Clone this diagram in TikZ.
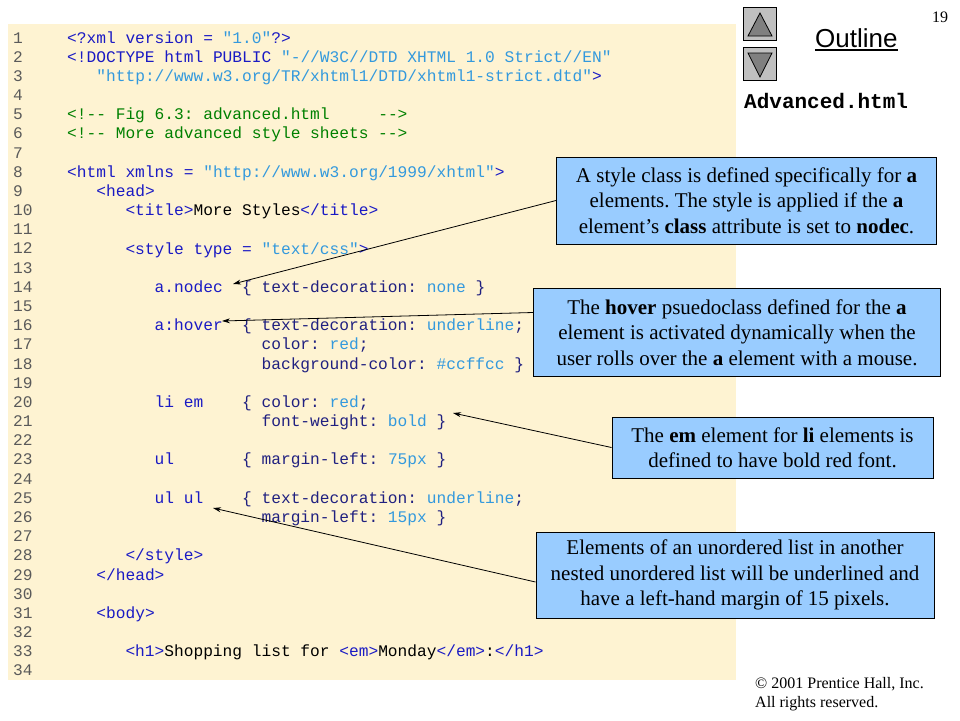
\documentclass[tikz,border=0pt]{standalone}
\usepackage{fontspec}
\setmainfont{Liberation Serif}
\setsansfont{Liberation Sans}
\setmonofont{Liberation Mono}
\usetikzlibrary{arrows.meta}

\definecolor{cream}{RGB}{254,243,210}
\definecolor{noteblue}{RGB}{153,204,255}
\definecolor{tagblue}{RGB}{26,26,196}
\definecolor{valblue}{RGB}{51,153,221}
\definecolor{propnavy}{RGB}{32,32,128}
\definecolor{comgreen}{RGB}{0,128,0}
\definecolor{numgray}{RGB}{90,90,90}
\definecolor{btngray}{RGB}{192,192,192}
\definecolor{arrgray}{RGB}{128,128,128}

\newcommand{\ctag}[1]{\textcolor{tagblue}{#1}}
\newcommand{\cval}[1]{\textcolor{valblue}{#1}}
\newcommand{\cprop}[1]{\textcolor{propnavy}{#1}}
\newcommand{\ccom}[1]{\textcolor{comgreen}{#1}}

\tikzset{
	codeline/.style = {anchor=base west, inner sep=0pt, font=\fontsize{16.2}{19}\ttfamily\frenchspacing},
	linenum/.style = {codeline, text=numgray},
	note/.style = {draw=black, line width=1pt, fill=noteblue, align=center, inner sep=0pt,
		font=\fontsize{21}{25.5}\selectfont\frenchspacing},
	pointer/.style = {line width=0.8pt, -{Stealth[length=8pt,width=5pt]}},
	button/.style = {draw=black, line width=1.2pt, fill=btngray, minimum size=33pt, inner sep=0pt}
}

\begin{document}
\begin{tikzpicture}[x=1pt,y=-1pt]
	\useasboundingbox (0,0) rectangle (960,720);
	\fill[white] (0,0) rectangle (960,720);
	\fill[cream] (8,24) rectangle (736,680);
	% line numbers
	\foreach \n in {1,...,34}
		\node[linenum] (n\n) at (13,{43+(\n-1)*19.18}) {\n};
	% code
	\node[codeline] (c1) at (67,43) {\ctag{<?xml version =} \cval{"1.0"}\ctag{?>}};
	\node[codeline] (c2) at (67,62.2) {\ctag{<!DOCTYPE html PUBLIC} \cval{"-//W3C//DTD XHTML 1.0 Strict//EN"}};
	\node[codeline] (c3) at (96.2,81.4) {\cval{"http://www.w3.org/TR/xhtml1/DTD/xhtml1-strict.dtd"}\ctag{>}};
	\node[codeline] (c5) at (67,119.7) {\ccom{<!-- Fig 6.3: advanced.html~~~~~-->}};
	\node[codeline] (c6) at (67,138.9) {\ccom{<!-- More advanced style sheets -->}};
	\node[codeline] (c8) at (67,177.3) {\ctag{<html xmlns =} \cval{"http://www.w3.org/1999/xhtml"}\ctag{>}};
	\node[codeline] (c9) at (96.2,196.4) {\ctag{<head>}};
	\node[codeline] (c10) at (125.3,215.6) {\ctag{<title>}More Styles\ctag{</title>}};
	\node[codeline] (c12) at (125.3,254) {\ctag{<style type =} \cval{"text/css"}\ctag{>}};
	\node[codeline] (c14) at (154.5,292.3) {\ctag{a.nodec}~~\cprop{\{ text-decoration:} \cval{none} \cprop{\}}};
	\node[codeline] (c16) at (154.5,330.7) {\ctag{a:hover}~~\cprop{\{ text-decoration:} \cval{underline}\cprop{;}};
	\node[codeline] (c17) at (261.4,349.9) {\cprop{color:} \cval{red}\cprop{;}};
	\node[codeline] (c18) at (261.4,369) {\cprop{background-color:} \cval{\#ccffcc} \cprop{\}}};
	\node[codeline] (c20) at (154.5,407.4) {\ctag{li em}~~~~\cprop{\{ color:} \cval{red}\cprop{;}};
	\node[codeline] (c21) at (261.4,426.6) {\cprop{font-weight:} \cval{bold} \cprop{\}}};
	\node[codeline] (c23) at (154.5,464.9) {\ctag{ul}~~~~~~~\cprop{\{ margin-left:} \cval{75px} \cprop{\}}};
	\node[codeline] (c25) at (154.5,503.3) {\ctag{ul ul}~~~~\cprop{\{ text-decoration:} \cval{underline}\cprop{;}};
	\node[codeline] (c26) at (261.4,522.5) {\cprop{margin-left:} \cval{15px} \cprop{\}}};
	\node[codeline] (c28) at (125.3,560.8) {\ctag{</style>}};
	\node[codeline] (c29) at (96.2,580) {\ctag{</head>}};
	\node[codeline] (c31) at (96.2,618.4) {\ctag{<body>}};
	\node[codeline] (c33) at (125.3,656.7) {\ctag{<h1>}Shopping list for \ctag{<em>}Monday\ctag{</em>}:\ctag{</h1>}};
	% header
	\node[button] (upbtn) at (760,24) {};
	\filldraw[fill=arrgray, line width=0.8pt] (748,36) -- (760,13) -- (772,36) -- cycle;
	\node[button] (downbtn) at (760,64) {};
	\filldraw[fill=arrgray, line width=0.8pt] (748,53) -- (772,53) -- (760,77) -- cycle;
	\node[anchor=base west, inner sep=0pt, font=\fontsize{26}{30}\sffamily] (outline) at (815,47) {Outline};
	\draw[line width=1.8pt] ([yshift=-3pt]outline.base west) -- ([yshift=-3pt]outline.base east);
	\node[anchor=base west, inner sep=0pt, font=\fontsize{16}{19}\selectfont] (page) at (932,22) {19};
	\node[anchor=base west, inner sep=0pt, font=\fontsize{21}{25}\ttfamily\bfseries] (fname) at (744,108) {Advanced.html};
	% notes
	\node[note, minimum width=380pt, minimum height=87pt] (nodecnote) at (746.5,200.5)
		{A style class is defined specifically for \textbf{a}\\ elements. The style is applied if the \textbf{a}\\ element's \textbf{class} attribute is set to \textbf{nodec}.};
	\node[note, minimum width=407pt, minimum height=88pt] (hovernote) at (737,332.5)
		{The \textbf{hover} psuedoclass defined for the \textbf{a}\\ element is activated dynamically when the\\ user rolls over the \textbf{a} element with a mouse.};
	\node[note, minimum width=321pt, minimum height=61pt] (emnote) at (772.5,447.5)
		{The \textbf{em} element for \textbf{li} elements is\\ defined to have bold red font.};
	\node[note, minimum width=398pt, minimum height=86pt] (ulnote) at (735,575)
		{Elements of an unordered list in another\\ nested unordered list will be underlined and\\ have a left-hand margin of 15 pixels.};
	\coordinate (nodectip) at (233,284);
	\coordinate (hovertip) at (222,321);
	\coordinate (emtip) at (453,413);
	\coordinate (ultip) at (213,508);
	\draw[pointer] (nodecnote.west) -- (nodectip);
	\draw[pointer] ([yshift=20pt]hovernote.west) -- (hovertip);
	\draw[pointer] (emnote.west) -- (emtip);
	\draw[pointer] ([yshift=-7pt]ulnote.west) -- (ultip);
	% footer
	\node[anchor=base west, inner sep=0pt, font=\fontsize{16}{19}\selectfont] (copy) at (755,688) {\textcopyright{} 2001 Prentice Hall, Inc.};
	\node[anchor=base west, inner sep=0pt, font=\fontsize{16}{19}\selectfont] (rights) at (755,707) {All rights reserved.};
\end{tikzpicture}
\end{document}
